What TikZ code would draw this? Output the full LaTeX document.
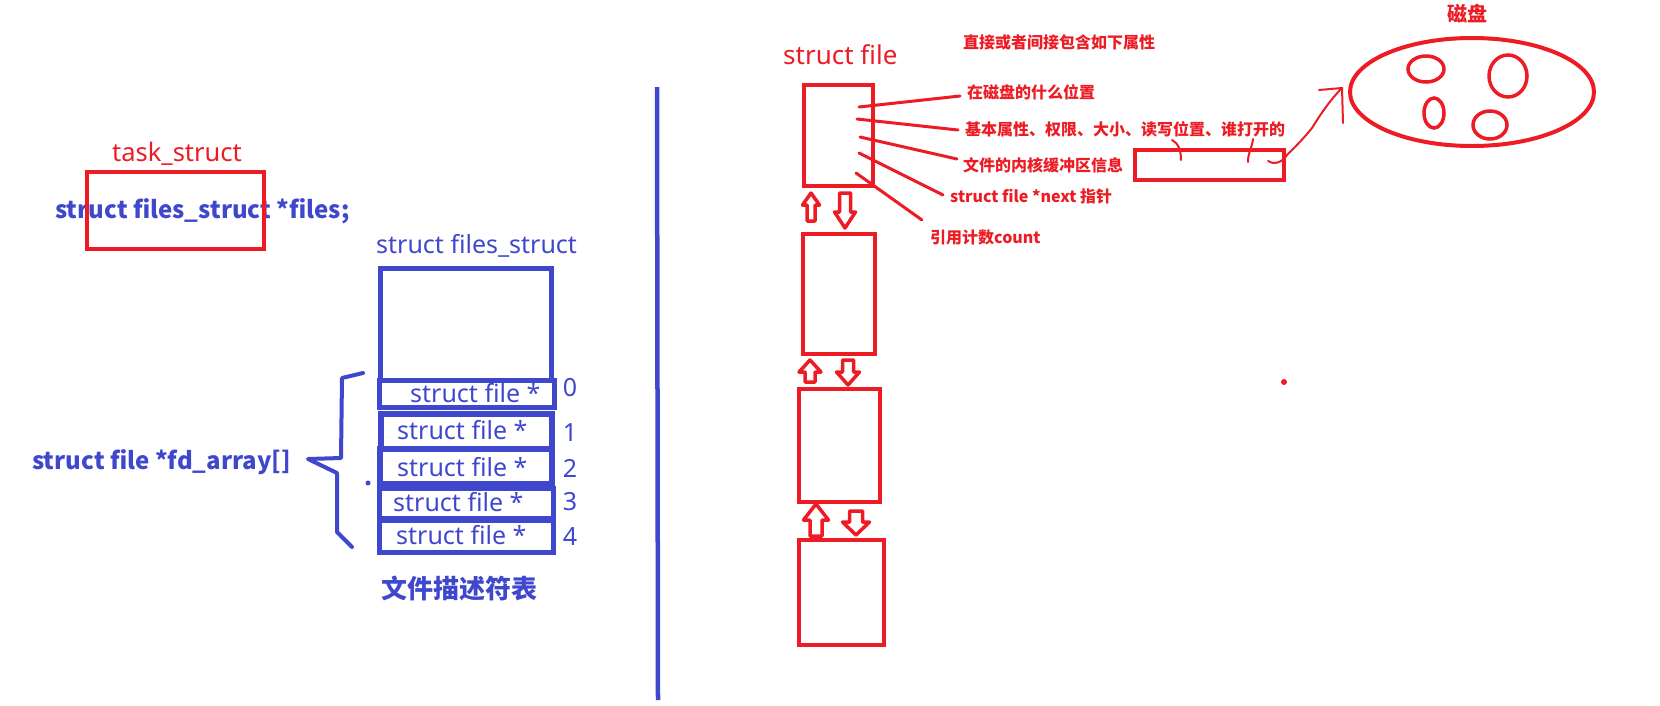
\documentclass[tikz,border=0pt]{standalone}
\usepackage{fontspec}
\setmainfont{Noto Sans}
\newfontfamily\cjk{Noto Sans CJK SC}
\definecolor{pred}{HTML}{ED1C24}
\definecolor{pblue}{HTML}{3F48CC}
\tikzset{
  redbox/.style={draw=pred, line width=4pt},
  bluebox/.style={draw=pblue, line width=5pt},
  redline/.style={draw=pred, line width=3pt, line cap=round},
  thinred/.style={draw=pred, line width=2pt, line cap=round, line join=round},
  blueline/.style={draw=pblue, line width=4pt, line cap=round, line join=round},
  arrowline/.style={draw=pred, line width=3.5pt, line join=round},
  rtxt/.style={text=pred, inner sep=0pt, anchor=west, font=\fontsize{16pt}{18pt}\selectfont\cjk\bfseries},
  btxt/.style={text=pblue, inner sep=0pt, anchor=west, font=\fontsize{25pt}{28pt}\selectfont},
  bbold/.style={text=pblue, inner sep=0pt, anchor=west, font=\fontsize{24pt}{28pt}\selectfont\cjk\bfseries},
}
\newcommand\blkarrow[6]{%
  \draw[arrowline] ({#1},{#2}) -- ({#1+#4/2},{#2+#6}) -- ({#1+#5/2},{#2+#6}) -- ({#1+#5/2},{#3})
    -- ({#1-#5/2},{#3}) -- ({#1-#5/2},{#2+#6}) -- ({#1-#4/2},{#2+#6}) -- cycle;}
\begin{document}
\begin{tikzpicture}[x=1pt,y=-1pt]
\useasboundingbox (0,0) rectangle (1660,705);
% ---------- left part ----------
\node[text=pred, inner sep=0pt, font=\fontsize{25.5pt}{28pt}\selectfont] (task) at (177,154) {task\_struct};
\node[bbold] (files) at (55,211) {struct files\_struct *files;};
\draw[redbox] (87,172) rectangle (264,249);
\node[btxt] (fslabel) at (376,246) {struct files\_struct};
\draw[bluebox] (380,268) rectangle (551,380);
\draw[bluebox] (379,380) rectangle (554,407);
\draw[bluebox, line width=6.5pt] (381,414) rectangle (552,449);
\draw[bluebox, line width=6.5pt] (380,449) rectangle (552,484);
\draw[bluebox] (379,488) rectangle (553,518);
\draw[bluebox] (379,520) rectangle (553,552);
\node[btxt] (r0) at (410,393) {struct file *};
\node[btxt] (r1) at (397,430) {struct file *};
\node[btxt] (r2) at (397,467) {struct file *};
\node[btxt] (r3) at (393,502) {struct file *};
\node[btxt] (r4) at (396,535) {struct file *};
\node[btxt, anchor=center] (n0) at (570,388) {0};
\node[btxt, anchor=center] (n1) at (570,433) {1};
\node[btxt, anchor=center] (n2) at (570,468) {2};
\node[btxt, anchor=center] (n3) at (570,502) {3};
\node[btxt, anchor=center] (n4) at (570,537) {4};
\draw[blueline] (363,373) -- (342,378) -- (341,458) -- (308,459) -- (337,473) -- (337,532) -- (352,547);
\fill[pblue] (368,483) circle (2.5pt);
\node[bbold] (fdarr) at (32,462) {struct file *fd\_array[]};
\node[bbold, font=\fontsize{26pt}{30pt}\selectfont\cjk\bfseries] (fdt) at (381,588) {文件描述符表};
% ---------- divider ----------
\draw[pblue, line width=4.5pt] (657,87) -- (658,700);
% ---------- right part ----------
\node[text=pred, inner sep=0pt, anchor=west, font=\fontsize{26pt}{28pt}\selectfont] (sf) at (783,55) {struct file};
\node[rtxt] (head) at (963,42) {直接或者间接包含如下属性};
\draw[redbox] (804,85) rectangle (873,186);
\draw[redbox] (803,234) rectangle (875,354);
\draw[redbox] (799,389) rectangle (880,502);
\draw[redbox] (799,540) rectangle (884,645);
\blkarrow{811}{193}{221}{17}{8}{12}
\blkarrow{845}{228}{193}{21}{11}{-16}
\blkarrow{810}{360}{382}{22}{10}{12}
\blkarrow{848}{385}{360}{23}{11}{-13}
\blkarrow{816}{504}{536}{25}{12}{16}
\blkarrow{856}{535}{511}{27}{13}{-13}
\node[rtxt] (l1) at (967,92) {在磁盘的什么位置};
\node[rtxt] (l2) at (965,129) {基本属性、权限、大小、读写位置、谁打开的};
\node[rtxt] (l3) at (963,165) {文件的内核缓冲区信息};
\node[rtxt] (l4) at (950,196) {struct file *next 指针};
\node[rtxt] (l5) at (930,237) {引用计数count};
\coordinate (s1) at (859,107); \coordinate (e1) at (960,96);
\coordinate (s2) at (857,119); \coordinate (e2) at (958,130);
\coordinate (s3) at (860,137); \coordinate (e3) at (957,159);
\coordinate (s4) at (859,153); \coordinate (e4) at (943,195);
\coordinate (s5) at (856,173); \coordinate (e5) at (922,220);
\draw[redline] (s1) -- (e1);
\draw[redline] (s2) -- (e2);
\draw[redline] (s3) -- (e3);
\draw[redline] (s4) -- (e4);
\draw[redline] (s5) -- (e5);
\draw[redbox] (1135,150) rectangle (1284,180);
\draw[thinred] (1172,140) .. controls (1178,143) and (1181,150) .. (1181,160);
\draw[thinred] (1253,139) .. controls (1252,148) and (1248,152) .. (1248,162);
\draw[thinred] (1268,161) .. controls (1273,165) and (1282,163) .. (1287,155)
  .. controls (1295,147) and (1305,137) .. (1312,128)
  .. controls (1320,115) and (1330,100) .. (1342,88);
\draw[thinred] (1319,90) -- (1342,88) -- (1343,123);
\node[text=pred, inner sep=0pt, font=\fontsize{20pt}{24pt}\selectfont\cjk\bfseries] (disklbl) at (1467,14) {磁盘};
\draw[pred, line width=4pt] (1472,92) ellipse [x radius=122pt, y radius=54pt];
\draw[pred, line width=3.5pt] (1426,69) ellipse [x radius=18pt, y radius=13pt];
\draw[pred, line width=3.5pt] (1508,76) ellipse [x radius=19pt, y radius=21pt];
\draw[pred, line width=3.5pt] (1434,113) ellipse [x radius=10pt, y radius=15pt];
\draw[pred, line width=3.5pt] (1490,125) ellipse [x radius=17pt, y radius=14pt];
\fill[pred] (1284,382) circle (3pt);
\end{tikzpicture}
\end{document}
